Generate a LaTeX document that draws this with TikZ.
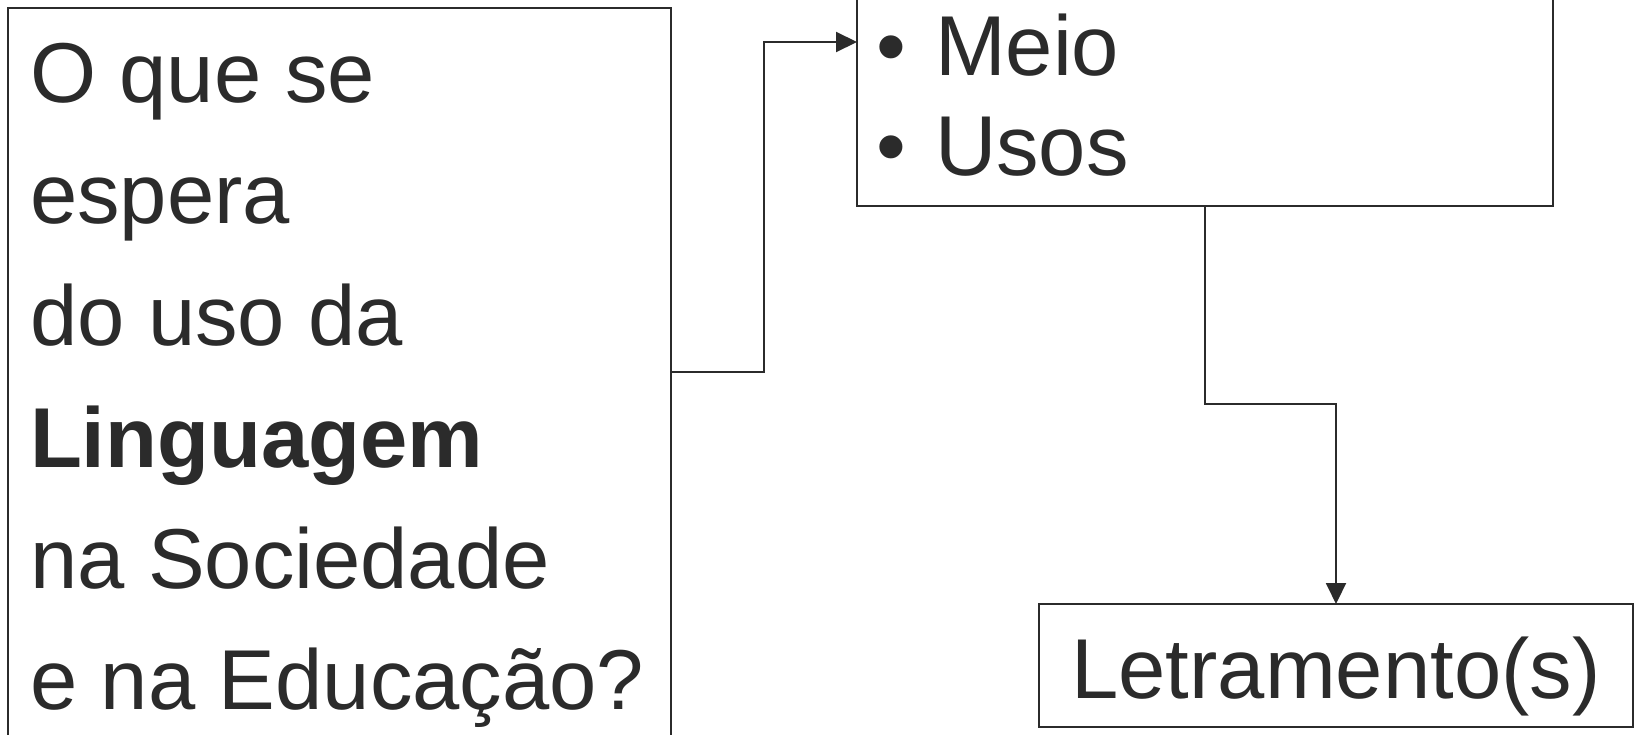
\documentclass[tikz,border=0pt]{standalone}
\usepackage{fontspec}
\setmainfont{Liberation Sans}
\usetikzlibrary{arrows.meta}
\definecolor{ink}{HTML}{2B2B2B}
\tikzset{
  boxshape/.style={draw=ink, line width=2pt, inner sep=0pt, outer sep=0pt, rectangle},
  conn/.style={draw=ink, line width=2pt},
  arr/.style={conn, -{Triangle[length=21pt,width=20pt]}},
  bigtext/.style={text=ink, inner sep=0pt, outer sep=0pt, anchor=base west,
    font=\fontsize{85}{121}\selectfont},
}
\begin{document}
\begin{tikzpicture}[x=1pt,y=-1pt]
\useasboundingbox (0,0) rectangle (1637,734);
\fill[white] (0,0) rectangle (1637,734);
% left box (extends past the bottom edge)
\node[boxshape, anchor=north west, minimum width=663pt, minimum height=780pt] (lbox) at (8,8) {};
\node[bigtext] (q1) at (30,102) {O que se};
\node[bigtext] (q2) at (30,223) {espera};
\node[bigtext] (q3) at (30,345) {do uso da};
\node[bigtext] (q4) at (30,467) {\bfseries Linguagem};
\node[bigtext] (q5) at (30,588) {na Sociedade};
\node[bigtext] (q6) at (30,709) {e na Educação?};
% top right box (extends past the top edge)
\node[boxshape, anchor=south west, minimum width=696pt, minimum height=240pt] (tbox) at (857,206) {};
\node[bigtext] (m1) at (876,75) {\makebox[59pt][l]{•}Meio};
\node[bigtext] (m2) at (876,175) {\makebox[59pt][l]{•}Usos};
% bottom right box
\node[boxshape, minimum width=594pt, minimum height=123pt, text=ink,
  font=\fontsize{85}{121}\selectfont, text height=65pt, text depth=0pt] (lett) at (1336,665.5) {Letramento(s)};
% connectors
\coordinate (b1) at (764,372);
\coordinate (b2) at (764,42);
\coordinate (c1) at (1205,404);
\coordinate (c2) at (1336,404);
\draw[arr] (lbox.east |- b1) -- (b1) -- (b2) -- (tbox.west |- b2);
\draw[arr] (tbox.south -| c1) -- (c1) -- (c2) -- (lett.north);
\end{tikzpicture}
\end{document}
